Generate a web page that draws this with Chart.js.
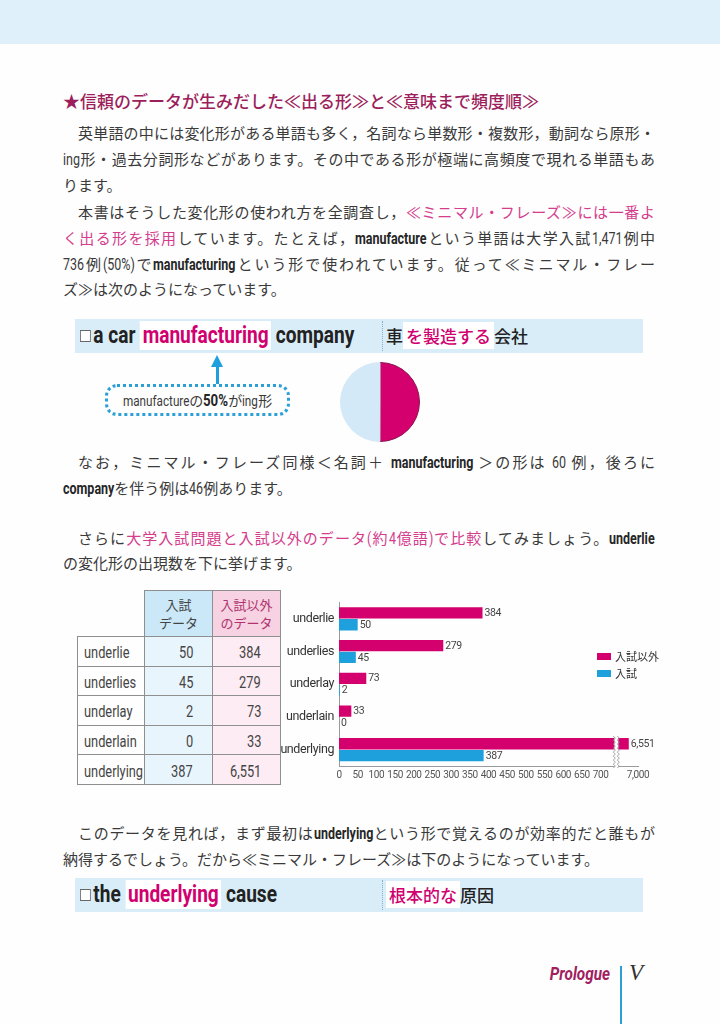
<!DOCTYPE html>
<html lang="ja">
<head>
<meta charset="utf-8">
<script src="https://cdn.jsdelivr.net/npm/chart.js@4.4.1/dist/chart.umd.min.js"></script>
<style>
  html, body { margin: 0; padding: 0; }
  body { width: 720px; height: 1024px; position: relative; overflow: hidden; background: #fefefe;
         font-family: "Noto Sans CJK JP", "Noto Sans", sans-serif; color: #3a3a3a; }
  .band { position: absolute; left: 0; top: 0; width: 720px; height: 44px; background: #dff0fb; }
  .line { position: absolute; left: 63px; width: 592px; height: 26px; line-height: 26px; font-size: 15px; white-space: nowrap; }
  .full { text-align: justify; text-align-last: justify; }
  .ind { text-indent: 15px; }
  /* narrow latin text: Roboto squeezed horizontally (margin fixed in script) */
  .cn { display: inline-block; font-family: Roboto, "Noto Sans", sans-serif; font-size: 16px; text-indent: 0;
        transform: scaleX(0.78); transform-origin: left center; }
  .b { font-weight: bold; color: #262626; }
  .pk { color: #d43c8c; }
  .title { font-size: 17px; color: #9c1f5c; font-weight: 500; }
  .phrase { position: absolute; left: 75px; width: 568px; height: 34px; background: #d9edf9; }
  .phrase .enp { position: absolute; left: 5px; top: 0; line-height: 34px; font-size: 23px; font-weight: bold; color: #222;
                 font-family: Roboto, "Noto Sans", sans-serif; white-space: nowrap; transform: scaleX(0.83); transform-origin: left center; }
  .phrase .hl { background: #fff; color: #d0006f; padding: 1px 3px; }
  .phrase .div { position: absolute; left: 307px; top: 2px; height: 30px; border-left: 1px dotted #7fb2cf; }
  .phrase .jp { position: absolute; left: 311px; top: 0; line-height: 34px; font-size: 17px; font-weight: 500; color: #222; white-space: nowrap; }
  .sq { display: inline-block; width: 11px; height: 10px; border: 1px solid #666; background: #fff; margin-right: 3px; vertical-align: 1px; }
  .dotbox { position: absolute; left: 105px; top: 384px; width: 179px; height: 26px; border: 3px dotted #2a9fd8; border-radius: 12px;
            text-align: center; line-height: 26px; font-size: 14px; color: #3a3a3a; white-space: nowrap; }
  .arrow-shaft { position: absolute; left: 216px; top: 366px; width: 3px; height: 18px; background: #1f9fdc; }
  .arrow-head { position: absolute; left: 211px; top: 355px; width: 0; height: 0; border-left: 6.5px solid transparent;
                border-right: 6.5px solid transparent; border-bottom: 12px solid #1f9fdc; }
  table.data { position: absolute; left: 77px; top: 590px; width: 203px; border-collapse: collapse; table-layout: fixed; }
  table.data td, table.data th { border: 1px solid #8f8f8f; padding: 0; overflow: hidden; white-space: nowrap; }
  table.data th { height: 45px; font-size: 13px; font-weight: normal; line-height: 18px; color: #444; }
  table.data th.blank { border: none; border-bottom: 1px solid #8f8f8f; background: transparent; }
  table.data td { height: 28.6px; color: #444; }
  table.data td .cn { font-size: 16px; transform: scaleX(0.8); }
  table.data td.f { padding-left: 6px; text-align: left; }
  table.data td.n { text-align: right; padding-right: 19px; }
  .footer-p { position: absolute; left: 530px; width: 80px; text-align: right; top: 963px; font-family: Roboto, sans-serif;
              font-size: 18px; font-weight: bold; font-style: italic; color: #a0205e; transform: scaleX(0.85); transform-origin: right center; }
  .footer-bar { position: absolute; left: 620px; top: 966px; width: 2px; height: 58px; background: #2a9fd6; }
  .footer-v { position: absolute; left: 629px; top: 960px; font-family: "Liberation Serif", "DejaVu Serif", serif; font-size: 23px; font-style: italic; color: #333; }
  canvas { position: absolute; }
</style>
</head>
<body>
<div class="band"></div>

<div class="line title" style="top:88px">★信頼のデータが生みだした≪出る形≫と≪意味まで頻度順≫</div>

<div class="line full ind" style="top:120px">英単語の中には変化形がある単語も多く，名詞なら単数形・複数形，動詞なら原形・</div>
<div class="line full" style="top:146px"><span class="cn">ing</span>形・過去分詞形などがあります。その中である形が極端に高頻度で現れる単語もあ</div>
<div class="line" style="top:172px">ります。</div>

<div class="line full ind" style="top:199px">本書はそうした変化形の使われ方を全調査し，<span class="pk">≪ミニマル・フレーズ≫には一番よ</span></div>
<div class="line full" style="top:225px"><span class="pk">く出る形を採用</span>しています。たとえば，<span class="cn b">manufacture</span>という単語は大学入試<span class="cn">1,471</span>例中</div>
<div class="line full" style="top:251px"><span class="cn">736</span>例<span class="cn">(50%)</span>で<span class="cn b">manufacturing</span>という形で使われています。従って≪ミニマル・フレー</div>
<div class="line" style="top:276px">ズ≫は次のようになっています。</div>

<div class="phrase" style="top:319px">
  <div class="enp"><span class="sq"></span>a car <span class="hl">manufacturing</span> company</div>
  <div class="div"></div>
  <div class="jp">車<span class="hl">を製造する</span>会社</div>
</div>

<div class="arrow-head"></div>
<div class="arrow-shaft"></div>
<div class="dotbox"><span class="cn" style="font-size:15px">manufacture</span>の<span class="cn b" style="font-size:17px">50%</span>が<span class="cn" style="font-size:15px">ing</span>形</div>
<canvas id="pie" width="80" height="80" style="left:340px;top:362px;width:80px;height:80px"></canvas>

<div class="line full ind" style="top:449px">なお，ミニマル・フレーズ同様＜名詞＋ <span class="cn b">manufacturing</span> ＞の形は <span class="cn">60</span> 例，後ろに</div>
<div class="line" style="top:475px"><span class="cn b">company</span>を伴う例は<span class="cn">46</span>例あります。</div>

<div class="line full ind" style="top:525px">さらに<span class="pk">大学入試問題と入試以外のデータ<span class="cn">(</span>約<span class="cn">4</span>億語<span class="cn">)</span>で比較</span>してみましょう。<span class="cn b">underlie</span></div>
<div class="line" style="top:550px">の変化形の出現数を下に挙げます。</div>

<table class="data" id="tbl"></table>
<canvas id="bars" width="386" height="200" style="left:278px;top:590px;width:386px;height:200px"></canvas>

<div class="line full ind" style="top:820px">このデータを見れば，まず最初は<span class="cn b">underlying</span>という形で覚えるのが効率的だと誰もが</div>
<div class="line" style="top:846px">納得するでしょう。だから≪ミニマル・フレーズ≫は下のようになっています。</div>

<div class="phrase" style="top:878px">
  <div class="enp"><span class="sq"></span>the <span class="hl">underlying</span> cause</div>
  <div class="div"></div>
  <div class="jp"><span class="hl">根本的な</span>原因</div>
</div>

<div class="footer-p">Prologue</div>
<div class="footer-bar"></div>
<div class="footer-v">V</div>

<script>
// word forms and their counts
const forms = ["underlie", "underlies", "underlay", "underlain", "underlying"];
const examCounts = [50, 45, 2, 0, 387];          // 入試データ
const otherCounts = [384, 279, 73, 33, 6551];    // 入試以外のデータ
const xTicks = [0, 50, 100, 150, 200, 250, 300, 350, 400, 450, 500, 550, 600, 650, 700, 7000];
const seriesNames = ["入試以外", "入試"];
const tableHead = ["入試<br>データ", "入試以外<br>のデータ"];

// manufacture: 736 of 1,471 examples are "manufacturing"
const pieLabels = ["manufacturing", "その他"];
const pieValues = [736, 735];

const PINK = "#d3006e";
const BLUE = "#1ea0dc";
const EN = "Roboto, sans-serif";

// table
const tbl = document.getElementById("tbl");
let html = '<colgroup><col style="width:67px"><col style="width:68px"><col style="width:68px"></colgroup>';
html += '<tr><th class="blank"></th><th style="background:#cbe8f8">' + tableHead[0] +
        '</th><th style="background:#f6d2e2;color:#b0336f">' + tableHead[1] + '</th></tr>';
forms.forEach((f, i) => {
  html += '<tr><td class="f"><span class="cn">' + f + '</span></td>' +
          '<td class="n" style="background:#e9f5fd"><span class="cn">' + examCounts[i].toLocaleString("en-US") + '</span></td>' +
          '<td class="n" style="background:#fdecf3"><span class="cn">' + otherCounts[i].toLocaleString("en-US") + '</span></td></tr>';
});
tbl.innerHTML = html;

// squeeze the narrow latin spans: pull back the space the transform frees
document.querySelectorAll(".cn").forEach(el => {
  const s = parseFloat(getComputedStyle(el).transform.split("(")[1]) || 1;
  el.style.marginRight = (-el.offsetWidth * (1 - s)) + "px";
});

// pie
new Chart(document.getElementById("pie"), {
  type: "pie",
  data: {
    labels: pieLabels,
    datasets: [{
      data: pieValues,
      backgroundColor: [PINK, "#d4e9f7"],
      borderColor: ["#8a1450", "#d4e9f7"],
      borderWidth: 1
    }]
  },
  options: {
    responsive: false,
    animation: false,
    plugins: { legend: { display: false }, tooltip: { enabled: false } }
  }
});

// x axis is broken between 700 and 6,000
class BrokenLinearScale extends Chart.LinearScale {
  squash(v) {
    if (v <= 700) return v;
    return Math.max(742, 745 + (v - 6000) * 0.055);
  }
  getPixelForValue(v) {
    if (v === null || v === undefined) return NaN;
    return super.getPixelForValue(this.squash(v));
  }
}
BrokenLinearScale.id = "brokenLinear";
BrokenLinearScale.defaults = Chart.LinearScale.defaults;
Chart.register(BrokenLinearScale);

const tightText = {
  id: "tightText",
  beforeLayout(chart) { chart.ctx.letterSpacing = "-0.4px"; },
  beforeDraw(chart) { chart.ctx.letterSpacing = "-0.4px"; }
};

const barExtras = {
  id: "barExtras",
  afterDatasetsDraw(chart) {
    const ctx = chart.ctx;
    const xs = chart.scales.x;
    ctx.save();

    // break mark
    const bx = xs.getPixelForDecimal(742 / 800);
    const bigBar = chart.getDatasetMeta(0).data[forms.length - 1];
    const top = bigBar.y - bigBar.height / 2 - 2;
    const bottom = xs.top + 4;
    ctx.fillStyle = "#fff";
    ctx.fillRect(bx - 2, top, 4, bottom - top);
    ctx.strokeStyle = "#8a8a8a";
    ctx.lineWidth = 0.8;
    [-2, 2].forEach(dx => {
      ctx.beginPath();
      for (let y = top, k = 0; y <= bottom; y += 2, k++) {
        const x = bx + dx + (k % 2 ? 1 : -1);
        if (k === 0) ctx.moveTo(x, y); else ctx.lineTo(x, y);
      }
      ctx.stroke();
    });

    // value labels
    ctx.font = "10.5px " + EN;
    ctx.fillStyle = "#444";
    ctx.textBaseline = "middle";
    chart.data.datasets.forEach((ds, i) => {
      chart.getDatasetMeta(i).data.forEach((bar, j) => {
        ctx.fillText(ds.data[j].toLocaleString("en-US"), bar.x + 2, bar.y + 0.5);
      });
    });

    // legend
    ctx.letterSpacing = "0px";
    ctx.font = "11px \"Noto Sans CJK JP\", sans-serif";
    chart.data.datasets.forEach((ds, i) => {
      const ly = 63 + i * 17;
      ctx.fillStyle = ds.backgroundColor;
      ctx.fillRect(319, ly, 14, 7);
      ctx.fillStyle = "#333";
      ctx.fillText(ds.label, 337, ly + 3.5);
    });
    ctx.restore();
  }
};

new Chart(document.getElementById("bars"), {
  type: "bar",
  data: {
    labels: forms,
    datasets: [
      { label: seriesNames[0], data: otherCounts, backgroundColor: PINK },
      { label: seriesNames[1], data: examCounts, backgroundColor: BLUE }
    ]
  },
  options: {
    indexAxis: "y",
    responsive: false,
    animation: false,
    layout: { padding: { top: 6, right: 26, bottom: 6, left: 0 } },
    datasets: { bar: { categoryPercentage: 0.72, barPercentage: 0.96 } },
    plugins: { legend: { display: false }, tooltip: { enabled: false } },
    scales: {
      x: {
        type: "brokenLinear",
        min: 0,
        max: 800,
        grid: { display: false, drawTicks: false },
        border: { color: "#9a9a9a" },
        afterBuildTicks: axis => { axis.ticks = xTicks.map(v => ({ value: v })); },
        ticks: {
          autoSkip: false,
          maxRotation: 0,
          padding: 3,
          color: "#555",
          font: { family: EN, size: 10 },
          callback: v => v.toLocaleString("en-US")
        }
      },
      y: {
        grid: { display: false, drawTicks: false },
        border: { color: "#9a9a9a" },
        afterFit: s => { s.width = 61; },
        ticks: { padding: 5, color: "#333", font: { family: EN, size: 12.5 } }
      }
    }
  },
  plugins: [tightText, barExtras]
});
</script>
</body>
</html>
